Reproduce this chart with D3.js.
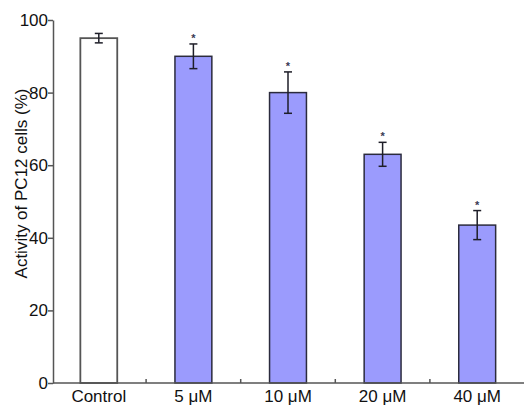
<!DOCTYPE html>
<html>
<head>
<meta charset="utf-8">
<script src="https://cdn.jsdelivr.net/npm/d3@7"></script>
<style>
  html, body { margin: 0; padding: 0; background: #fff; }
  svg { display: block; font-family: "Liberation Sans", Arial, sans-serif; }
</style>
</head>
<body>
<svg id="chart" width="524" height="405"></svg>
<script>
// Cell viability per treatment group (mean ± error)
const groups = ["Control", "5 μM", "10 μM", "20 μM", "40 μM"];
const means = [95.0, 90.0, 80.0, 63.0, 43.5];
const errors = [1.3, 3.4, 5.7, 3.3, 4.0];
const significant = [false, true, true, true, true];
const yTicks = [0, 20, 40, 60, 80, 100];

const svg = d3.select("#chart");
const plot = { left: 53, right: 526, top: 20, bottom: 383 };

const x = d3.scaleBand().domain(groups)
  .range([plot.left - 1.5, plot.right - 1.5])
  .paddingInner(0.61).paddingOuter(0.305);
const y = d3.scaleLinear().domain([0, 100]).range([plot.bottom, plot.top]);

// Bars
svg.append("g").selectAll("rect")
  .data(groups)
  .join("rect")
  .attr("x", d => x(d))
  .attr("y", (d, i) => y(means[i]))
  .attr("width", x.bandwidth())
  .attr("height", (d, i) => y(0) - y(means[i]))
  .attr("fill", (d, i) => i === 0 ? "#ffffff" : "#9b9bfd")
  .attr("stroke", (d, i) => i === 0 ? "#555" : "#2b2b3d")
  .attr("stroke-width", (d, i) => i === 0 ? 1.8 : 1.5);

// Error bars
const eb = svg.append("g").attr("stroke", "#1e1e28").attr("stroke-width", 1.5).attr("fill", "none");
groups.forEach((g, i) => {
  const cx = x(g) + x.bandwidth() / 2;
  const hi = y(means[i] + errors[i]), lo = y(means[i] - errors[i]);
  eb.append("line").attr("x1", cx).attr("x2", cx).attr("y1", hi).attr("y2", lo);
  eb.append("line").attr("x1", cx - 4).attr("x2", cx + 4).attr("y1", hi).attr("y2", hi);
  eb.append("line").attr("x1", cx - 4).attr("x2", cx + 4).attr("y1", lo).attr("y2", lo);
  if (significant[i]) {
    svg.append("text")
      .attr("x", cx).attr("y", hi - 2)
      .attr("text-anchor", "middle")
      .attr("font-size", 11).attr("font-weight", "bold")
      .attr("fill", "#3a3a55")
      .text("*");
  }
});

// Y axis
const yAxis = svg.append("g")
  .attr("transform", `translate(${plot.left},0)`)
  .call(d3.axisLeft(y).tickValues(yTicks).tickSize(5).tickSizeOuter(0).tickPadding(0));
yAxis.selectAll("path, line").attr("stroke", "#555").attr("stroke-width", 1.5);
yAxis.selectAll("text").attr("font-size", 17).attr("fill", "#111")
  .attr("font-family", "Liberation Sans, Arial, sans-serif");

// X axis: baseline with small inward ticks between groups
svg.append("line")
  .attr("x1", plot.left).attr("x2", plot.right).attr("y1", plot.bottom).attr("y2", plot.bottom)
  .attr("stroke", "#555").attr("stroke-width", 1.5);
const gap = x.step() - x.bandwidth();
groups.slice(1).forEach(g => {
  const bx = x(g) - gap / 2;
  svg.append("line").attr("x1", bx).attr("x2", bx)
    .attr("y1", plot.bottom).attr("y2", plot.bottom - 4)
    .attr("stroke", "#555").attr("stroke-width", 1.5);
});
svg.append("g").selectAll("text")
  .data(groups)
  .join("text")
  .attr("x", d => x(d) + x.bandwidth() / 2)
  .attr("y", 402)
  .attr("text-anchor", "middle")
  .attr("font-size", 17)
  .attr("fill", "#111")
  .text(d => d);

// Y axis title
svg.append("text")
  .attr("transform", "translate(27,183.5) rotate(-90)")
  .attr("text-anchor", "middle")
  .attr("font-size", 17)
  .attr("fill", "#111")
  .text("Activity of PC12 cells (%)");
</script>
</body>
</html>
